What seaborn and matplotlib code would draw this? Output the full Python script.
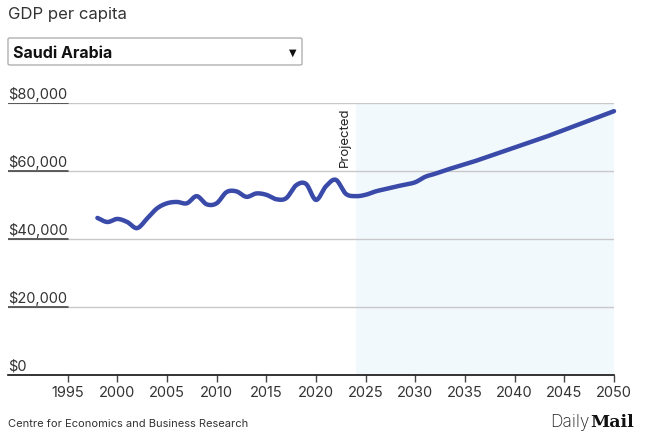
import numpy as np
import pandas as pd
import matplotlib.pyplot as plt
import matplotlib.transforms as mtransforms
from matplotlib.patches import FancyBboxPatch
import seaborn as sns

# data
years = list(range(1998, 2051))
gdp = [
    46200, 45000, 45900, 45000, 43200, 46000, 49000, 50500, 50900, 50500,
    52600, 50200, 50500, 53800, 54000, 52400, 53400, 53000, 51700, 52000,
    55800, 56200, 51500, 55500, 57400, 53300, 52600,
    53000, 54000, 54700, 55400, 56000, 56700, 58300, 59200, 60200, 61100,
    62000, 62900, 63900, 64900, 65900, 66900, 67900, 68900, 69900, 71000,
    72100, 73200, 74300, 75400, 76500, 77600,
]
projection_start = 2024
y_ticks = [0, 20000, 40000, 60000, 80000]
y_labels = ["$0", "$20,000", "$40,000", "$60,000", "$80,000"]
x_ticks = list(range(1995, 2051, 5))
country = "Saudi Arabia"


def catmull_rom(x, y, n=16):
    # smooth the annual points like the web chart does
    x = np.asarray(x, float)
    y = np.asarray(y, float)
    xp = np.concatenate([[2 * x[0] - x[1]], x, [2 * x[-1] - x[-2]]])
    yp = np.concatenate([[2 * y[0] - y[1]], y, [2 * y[-1] - y[-2]]])
    xs, ys = [], []
    t = np.linspace(0, 1, n, endpoint=False)
    for i in range(1, len(xp) - 2):
        p0, p1, p2, p3 = yp[i - 1], yp[i], yp[i + 1], yp[i + 2]
        ys.append(0.5 * ((2 * p1) + (-p0 + p2) * t
                         + (2 * p0 - 5 * p1 + 4 * p2 - p3) * t ** 2
                         + (-p0 + 3 * p1 - 3 * p2 + p3) * t ** 3))
        xs.append(xp[i] + (xp[i + 1] - xp[i]) * t)
    xs.append([x[-1]])
    ys.append([y[-1]])
    return np.concatenate(xs), np.concatenate(ys)


sx, sy = catmull_rom(years, gdp)
df = pd.DataFrame({"year": sx, "gdp": sy})

sns.set_theme(style="white")
plt.rcParams["font.family"] = ["Inter", "DejaVu Sans"]

fig = plt.figure(figsize=(6.46, 4.39), dpi=100)
W, H = 646, 439
ax = fig.add_axes([8 / W, 1 - 376 / H, (614 - 8) / W, (376 - 104) / H])

text_col = "#333333"

ax.axvspan(projection_start, 2050, ymin=0, ymax=1, color="#f2f9fd", lw=0, zorder=0)

x0, x1 = 1989, 2050
ax.set_xlim(x0, x1)
ax.set_ylim(0, 80000)

seg = (1995 - x0) / (x1 - x0)
blend = mtransforms.blended_transform_factory(ax.transAxes, ax.transData)
for v, lab in zip(y_ticks, y_labels):
    if v > 0:
        ax.axhline(v, color="#c8c8c8", lw=1, zorder=1)
        ax.axhline(v, xmin=0, xmax=seg, color="#444444", lw=1.2, zorder=2)
    ax.text(0, v + 600, lab, transform=blend, ha="left", va="bottom",
            fontsize=10.5, color=text_col)

sns.lineplot(data=df, x="year", y="gdp", ax=ax, color="#3a4aa9",
             linewidth=3.2, zorder=3, clip_on=False)

ax.text(projection_start - 0.5, 61500, "Projected", rotation=90,
        ha="right", va="bottom", fontsize=9.5, color="#222222")

for s in ["top", "right", "left"]:
    ax.spines[s].set_visible(False)
ax.spines["bottom"].set_color("#111111")
ax.spines["bottom"].set_linewidth(1.2)
ax.set_yticks([])
ax.set_xticks(x_ticks)
ax.set_xticklabels([str(t) for t in x_ticks])
ax.tick_params(axis="x", direction="out", length=5, width=1, color="#444444",
               labelsize=10.5, labelcolor=text_col, pad=2, bottom=True)
ax.set_xlabel("")
ax.set_ylabel("")
ax.grid(False)

# header
fig.text(8 / W, 1 - 15 / H, "GDP per capita", fontsize=12, color=text_col,
         ha="left", va="center")
box = FancyBboxPatch((8 / W, 1 - 66 / H), (302 - 8) / W, 27 / H,
                     boxstyle="round,pad=0,rounding_size=0.003",
                     transform=fig.transFigure, facecolor="white",
                     edgecolor="#a8a8a8", lw=0.9)
fig.patches.append(box)
fig.text(13 / W, 1 - 53 / H, country, fontsize=11.5, fontweight="bold",
         color="#111111", ha="left", va="center")
fig.text(293 / W, 1 - 53 / H, "\u25BC", fontsize=7, color="#111111",
         ha="center", va="center", family=["DejaVu Sans"])

# footer
fig.text(8 / W, 1 - 424 / H, "Centre for Economics and Business Research",
         fontsize=8, color=text_col, ha="left", va="center")
fig.text(590 / W, 1 - 423 / H, "Daily", fontsize=12.5, color="#222222",
         ha="right", va="center", fontweight="light")
fig.text(590 / W, 1 - 423 / H, "Mail", fontsize=12.5, color="#111111",
         ha="left", va="center", fontweight="heavy", family=["DejaVu Serif"])

fig.savefig("out.png", dpi=100)
